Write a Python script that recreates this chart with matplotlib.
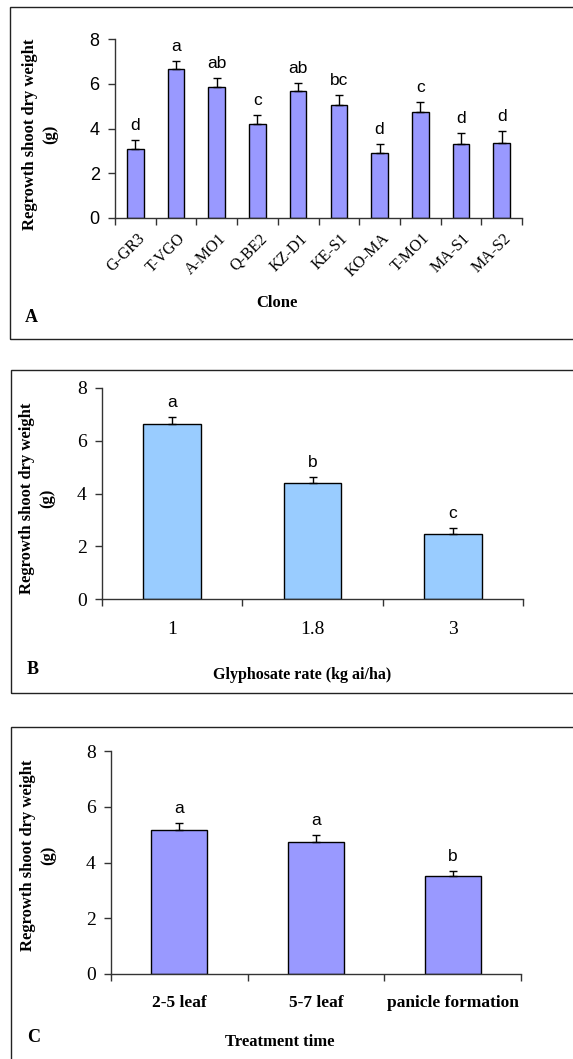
import matplotlib
matplotlib.use("Agg")
import matplotlib.pyplot as plt
from matplotlib.patches import Rectangle
from matplotlib.transforms import ScaledTranslation
import numpy as np

# --- data ---
clones = ["G-GR3", "T-VGO", "A-MO1", "Q-BE2", "KZ-D1", "KE-S1", "KO-MA", "T-MO1", "MA-S1", "MA-S2"]
clone_means = [3.08, 6.65, 5.86, 4.22, 5.66, 5.07, 2.89, 4.74, 3.29, 3.35]
clone_se = [0.42, 0.38, 0.38, 0.37, 0.39, 0.44, 0.40, 0.46, 0.53, 0.52]
clone_groups = ["d", "a", "ab", "c", "ab", "bc", "d", "c", "d", "d"]

rates = ["1", "1.8", "3"]
rate_means = [6.63, 4.38, 2.46]
rate_se = [0.26, 0.24, 0.22]
rate_groups = ["a", "b", "c"]

stages = ["2-5 leaf", "5-7 leaf", "panicle formation"]
stage_means = [5.17, 4.75, 3.51]
stage_se = [0.25, 0.25, 0.19]
stage_groups = ["a", "a", "b"]

YLABEL = "Regrowth shoot dry weight\n(g)"
SERIF = "Liberation Serif"
SANS = "Liberation Sans"
W, H = 573, 1059


def px(x, y):
    return x / W, 1 - y / H


def panel_box(fig, left, top, right, bottom):
    x0, y0 = px(left, bottom)
    x1, y1 = px(right, top)
    fig.patches.append(Rectangle((x0, y0), x1 - x0, y1 - y0, transform=fig.transFigure,
                                 fill=False, edgecolor="#222222", lw=1.0, clip_on=False))


def bar_panel(ax, labels, means, se, groups, color, tick_font, tick_size):
    n = len(labels)
    x = np.arange(n)
    ax.bar(x, means, width=0.41, color=color, edgecolor="black", linewidth=1.0, zorder=2)
    ax.errorbar(x, means, yerr=[np.zeros(n), se], fmt="none", ecolor="black",
                elinewidth=1.0, capsize=3, capthick=1.0, zorder=3)
    for xi, m, s, g in zip(x, means, se, groups):
        ax.annotate(g, (xi, m + s), xytext=(0, 5), textcoords="offset points",
                    ha="center", va="bottom", fontsize=12.5, family=SANS)
    ax.set_xlim(-0.5, n - 0.5)
    ax.set_ylim(0, 8)
    ax.set_yticks([0, 2, 4, 6, 8])
    ax.set_xticks(np.arange(n + 1) - 0.5)
    ax.set_xticklabels([])
    ax.tick_params(axis="x", which="major", direction="out", length=5, width=1, color="#333333")
    ax.tick_params(axis="y", direction="out", length=5, width=1, color="#333333", pad=6)
    for sp in ["top", "right"]:
        ax.spines[sp].set_visible(False)
    for sp in ["left", "bottom"]:
        ax.spines[sp].set_color("#333333")
        ax.spines[sp].set_linewidth(1.0)
    for t in ax.get_yticklabels():
        t.set_family(tick_font)
        t.set_fontsize(tick_size)
    return x


def ylabel(fig, x, y):
    fig.text(*px(x, y), YLABEL, rotation=90, ha="center", va="center", family=SERIF,
             fontweight="bold", fontsize=12, multialignment="center", linespacing=1.4)


fig = plt.figure(figsize=(W / 100, H / 100), dpi=100)

# --- panel A ---
panel_box(fig, 10, 7, 590, 339)
l, b = px(115, 218)
r, t = px(522, 39)
axA = fig.add_axes([l, b, r - l, t - b])
xa = bar_panel(axA, clones, clone_means, clone_se, clone_groups, "#9999FF", SANS, 13)
axA.set_xticks(xa, clones, minor=True, rotation=45, ha="right", rotation_mode="anchor",
               family=SERIF, fontsize=11.5)
axA.tick_params(axis="x", which="minor", length=0, pad=9)
for tl in axA.get_xticklabels(minor=True):
    tl.set_transform(tl.get_transform() + ScaledTranslation(1 / 72, 0, fig.dpi_scale_trans))
ylabel(fig, 40, 134)
fig.text(*px(277, 303), "Clone", ha="center", va="center", family=SERIF, fontweight="bold", fontsize=12)
fig.text(*px(25, 317), "A", ha="left", va="center", family=SERIF, fontweight="bold", fontsize=13)

# --- panel B ---
panel_box(fig, 11, 370, 590, 693)
l, b = px(102, 599)
r, t = px(523, 388)
axB = fig.add_axes([l, b, r - l, t - b])
xb = bar_panel(axB, rates, rate_means, rate_se, rate_groups, "#99CCFF", SERIF, 14)
axB.set_xticks(xb, rates, minor=True, family=SERIF, fontsize=14)
axB.tick_params(axis="x", which="minor", length=0, pad=16)
ylabel(fig, 37, 498)
fig.text(*px(302, 675), "Glyphosate rate (kg ai/ha)", ha="center", va="center", family=SERIF,
         fontweight="bold", fontsize=11.5)
fig.text(*px(27, 670), "B", ha="left", va="center", family=SERIF, fontweight="bold", fontsize=13)

# --- panel C ---
panel_box(fig, 11, 727, 590, 1080)
l, b = px(111, 974)
r, t = px(521, 751)
axC = fig.add_axes([l, b, r - l, t - b])
xc = bar_panel(axC, stages, stage_means, stage_se, stage_groups, "#9999FF", SERIF, 14)
axC.set_xticks(xc, stages, minor=True, family=SERIF, fontweight="bold", fontsize=12.5)
axC.tick_params(axis="x", which="minor", length=0, pad=15)
ylabel(fig, 38, 855)
fig.text(*px(280, 1042), "Treatment time", ha="center", va="center", family=SERIF,
         fontweight="bold", fontsize=12)
fig.text(*px(27, 1037), "C", ha="left", va="center", family=SERIF, fontweight="bold", fontsize=13)

fig.savefig("out.png", dpi=100)
